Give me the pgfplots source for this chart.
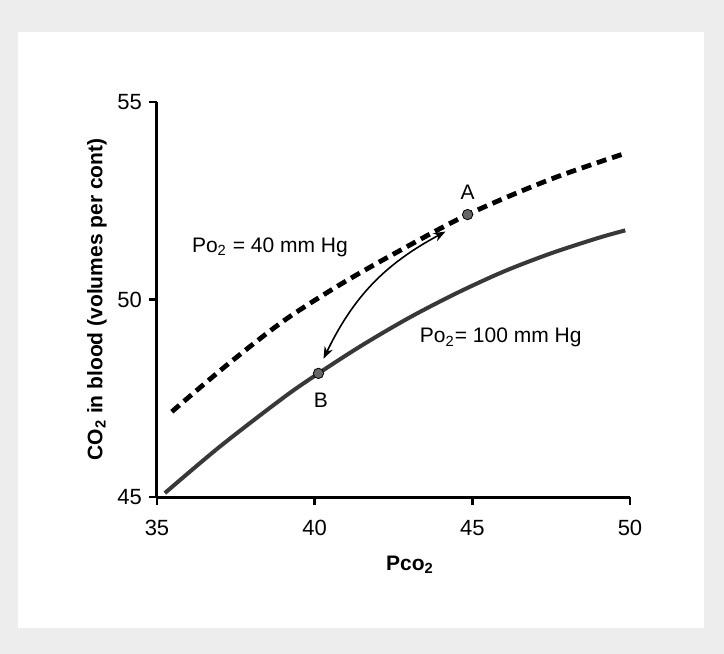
\documentclass[border=0pt]{standalone}
\usepackage{fontspec}
\setmainfont{Liberation Sans}
\usepackage{pgfplots}
\pgfplotsset{compat=1.18}
\usetikzlibrary{arrows.meta}
\newcommand\fs{\fontsize{10.5}{12.6}\selectfont}
\begin{document}
\begin{tikzpicture}
    % photographed page: grey border, white sheet
    \useasboundingbox (-78.5pt,-78.5pt) rectangle (283.5pt,248.5pt);
    \fill[gray!14] (-78.5pt,-78.5pt) rectangle (283.5pt,248.5pt);
    \fill[white] (-69.5pt,-65.5pt) rectangle (273.5pt,232.5pt);

    \begin{axis}[
        at={(0,0)}, anchor=south west,
        scale only axis,
        width=236.5pt, height=197.5pt,
        axis lines=left,
        axis line style={-, line width=1.5pt},
        xmin=35, xmax=50,
        ymin=45, ymax=55,
        xtick={35,40,45,50},
        ytick={45,50,55},
        tick align=outside,
        major tick length=4pt,
        tick style={line width=1.2pt, black},
        ticklabel style={font=\fontsize{11}{13}\selectfont},
        xticklabel style={yshift=-4pt},
        /pgf/number format/assume math mode=true,
        xlabel={\bfseries Pco\textsubscript{2}},
        ylabel={\bfseries CO\textsubscript{2} in blood (volumes per cont)},
        xlabel style={font=\fs, at={(axis description cs:0.535,0)}, anchor=center, yshift=-34pt},
        ylabel style={font=\fs, at={(axis description cs:-0.127,0.5)}, anchor=center},
        clip=false,
    ]

    % Po2 = 100 mm Hg
    \addplot[black!78, line width=2pt, smooth] coordinates {
        (35.25,45.10) (37.0,46.28) (39.0,47.51) (40.12,48.13)
        (41.5,48.84) (43.0,49.54) (44.5,50.16) (46.0,50.71)
        (47.5,51.17) (49.0,51.56) (49.85,51.75)
    };

    % Po2 = 40 mm Hg
    \addplot[black, line width=2.4pt, dash pattern=on 5pt off 3pt, smooth] coordinates {
        (35.47,47.16) (37.2,48.33) (39.0,49.45) (40.75,50.35)
        (42.5,51.15) (44.85,52.15) (47.5,53.05) (49.85,53.7)
    };

    % A and B
    \addplot[only marks, mark=*, mark size=2.6pt, black, fill=black!60] coordinates {
        (44.85,52.15) (40.12,48.13)
    };

    \draw[{Stealth[length=6pt]}-{Stealth[length=6pt]}, line width=0.8pt]
        (axis cs:44.15,51.72) to[bend right=18] (axis cs:40.28,48.5);

    \node[font=\fs] at (axis cs:44.85,52.72) {A};
    \node[font=\fs] at (axis cs:40.2,47.45) {B};
    \node[font=\fs] at (axis cs:38.58,51.33) {Po\textsubscript{2} = 40 mm Hg};
    \node[font=\fs] at (axis cs:45.9,49.03) {Po\textsubscript{2}= 100 mm Hg};
    \end{axis}
\end{tikzpicture}
\end{document}
